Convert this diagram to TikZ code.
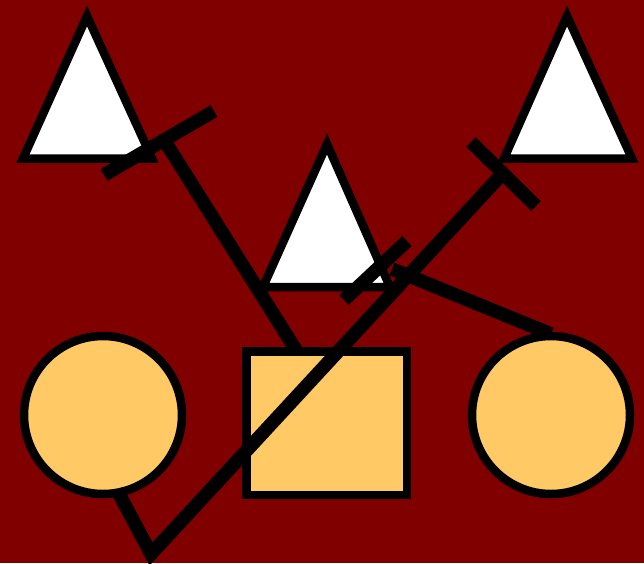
\documentclass[tikz,border=0pt]{standalone}
\definecolor{bgred}{HTML}{800000}
\definecolor{fillyel}{HTML}{FFCA66}
\begin{document}
\begin{tikzpicture}[x=1pt,y=-1pt,
  outline/.style={draw=black,line width=8.5pt},
  tri/.style={outline,fill=white,line join=miter},
  person/.style={outline,fill=fillyel,inner sep=0pt,outer sep=0pt},
  kin/.style={draw=black,line width=13.5pt,line cap=butt,line join=miter}]
\fill[bgred] (0,0) rectangle (644,563);
\useasboundingbox (0,0) rectangle (644,563);
% triangles
\draw[tri] (87,16) coordinate (t1a) -- (152,158.5) coordinate (t1r) -- (23,158.5) coordinate (t1l) -- cycle;
\draw[tri] (567,16) coordinate (t2a) -- (632,158.5) coordinate (t2r) -- (504,158.5) coordinate (t2l) -- cycle;
\draw[tri] (327,144) coordinate (t3a) -- (390,287) coordinate (t3r) -- (263,287) coordinate (t3l) -- cycle;
% persons
\node[person,circle,minimum size=158pt] (c1) at (103,415) {};
\node[person,circle,minimum size=158pt] (c2) at (551,415) {};
\node[person,rectangle,minimum width=160.3pt,minimum height=143.3pt] (sq) at (326.85,423.35) {};
% connector points
\coordinate (j1) at (166,143);
\coordinate (b1a) at (104,175);
\coordinate (b1b) at (214,111);
\coordinate (e1) at (296,350);
\coordinate (j2) at (503,173);
\coordinate (b2a) at (471,142);
\coordinate (b2b) at (536,206);
\coordinate (v2) at (151,554);
\coordinate (e2) at (117,490);
\coordinate (j3) at (392,269);
\coordinate (e3) at (551,334);
\coordinate (b3a) at (344,300);
\coordinate (b3b) at (407,241);
% connectors
\draw[kin] (j1) -- (e1);
\draw[kin] (b1a) -- (b1b);
\draw[kin] (j2) -- (v2) -- (e2);
\draw[kin] (b2a) -- (b2b);
\draw[kin] (j3) -- (e3);
\draw[kin] (b3a) -- (b3b);
\end{tikzpicture}
\end{document}
